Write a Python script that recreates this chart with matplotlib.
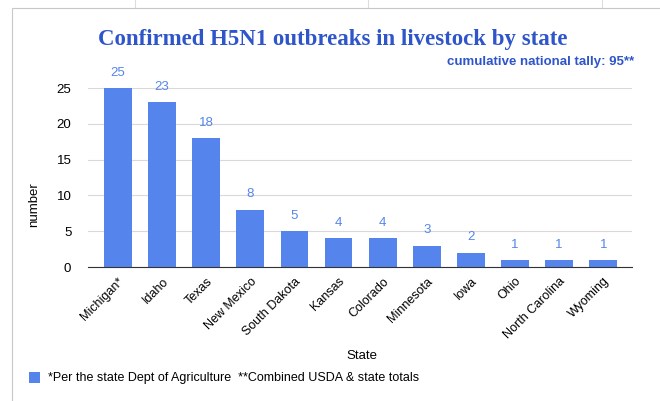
import numpy as np
import matplotlib.pyplot as plt
from matplotlib.patches import Rectangle

states = ["Michigan*", "Idaho", "Texas", "New Mexico", "South Dakota", "Kansas",
          "Colorado", "Minnesota", "Iowa", "Ohio", "North Carolina", "Wyoming"]
outbreaks = [25, 23, 18, 8, 5, 4, 4, 3, 2, 1, 1, 1]
yticks = [0, 5, 10, 15, 20, 25]

bar_color = "#5585ec"
title_color = "#2e55c9"
plt.rcParams["font.family"] = ["Liberation Sans", "DejaVu Sans"]

fig = plt.figure(figsize=(6.6, 4.01), dpi=100)
W, H = 660, 401

# spreadsheet background lines
for xg in [135, 368, 602]:
    fig.add_artist(plt.Line2D([xg / W, xg / W], [1 - 0 / H, 1 - 8 / H], color="#dddddd", lw=0.8, zorder=0))
fig.add_artist(Rectangle((12 / W, -0.01), 1, 1 - 8 / H + 0.01, transform=fig.transFigure,
                         facecolor="white", edgecolor="#c8c8c8", lw=0.8, zorder=0))

ax = fig.add_axes([88 / W, 1 - 267 / H, (632 - 88) / W, (267 - 88) / H])
ax.set_zorder(2)
ax.patch.set_alpha(0)
x = np.arange(len(states))
ax.bar(x, outbreaks, width=0.63, color=bar_color, zorder=2)
for xi, v in zip(x, outbreaks):
    ax.text(xi, v + 1.3, str(v), ha="center", va="bottom", color=bar_color, fontsize=9.5)

ax.set_xlim(-0.68, len(states) - 0.35)
ax.set_ylim(0, 25)
ax.set_yticks(yticks)
ax.set_xticks(x)
ax.set_xticklabels(states, rotation=45, ha="right", rotation_mode="anchor", fontsize=9)
ax.tick_params(axis="x", length=0, pad=6)
ax.tick_params(axis="y", length=0, labelsize=9.5, pad=12)
ax.grid(axis="y", color="#d9d9d9", lw=0.8, zorder=0)
for s in ["top", "right", "left"]:
    ax.spines[s].set_visible(False)
ax.spines["bottom"].set_color("#333333")
ax.set_ylabel("number", fontsize=9.5)
ax.yaxis.set_label_coords((40 - 88) / (632 - 88), (267 - 205) / (267 - 88))
ax.set_xlabel("State", fontsize=9.5)
ax.xaxis.set_label_coords((362 - 88) / (632 - 88), -(350 - 267) / (267 - 88))

fig.text(333 / W, 1 - 39 / H, "Confirmed H5N1 outbreaks in livestock by state",
         ha="center", va="center", fontsize=16.5, fontweight="bold",
         family="Liberation Serif", color=title_color, zorder=3)
fig.text(634 / W, 1 - 62 / H, "cumulative national tally: 95**", ha="right", va="center",
         fontsize=9.5, fontweight="bold", color=title_color, zorder=3)

fig.add_artist(Rectangle((29 / W, 1 - 383 / H), 11 / W, 11 / H, transform=fig.transFigure,
                         facecolor=bar_color, edgecolor="none", zorder=3))
fig.text(48 / W, 1 - 378 / H,
         "*Per the state Dept of Agriculture  **Combined USDA & state totals",
         ha="left", va="center", fontsize=9, zorder=3)

fig.savefig("out.png", dpi=100)
